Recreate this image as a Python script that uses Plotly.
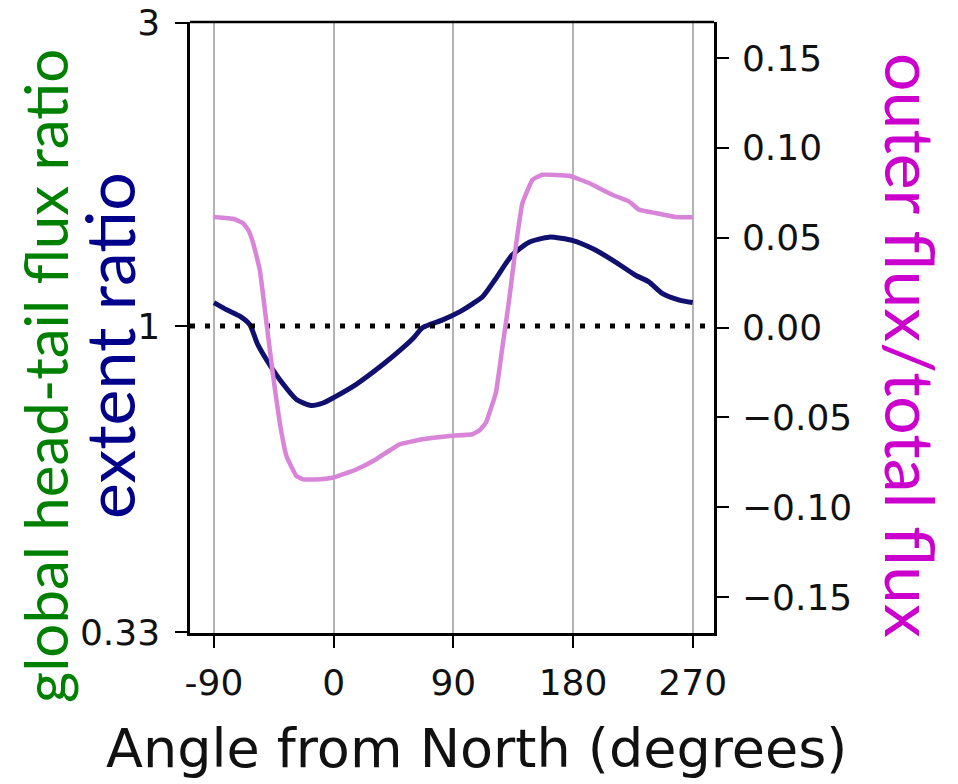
import math
import plotly.graph_objects as go

# Extent ratio (left, log axis) versus angle from North
extent_angle = [-90, -80, -70, -63, -57, -50, -40, -28, -17, -8, 0, 17, 37, 52, 60, 67,
                82, 95, 105, 112, 122, 134, 147, 162, 180, 195, 212, 227, 237, 247, 260, 270]
extent_ratio = [1.089, 1.060, 1.035, 1.005, 0.935, 0.882, 0.821, 0.767, 0.750, 0.757, 0.772,
                0.810, 0.870, 0.924, 0.958, 0.995, 1.023, 1.054, 1.086, 1.112, 1.188, 1.292,
                1.355, 1.380, 1.363, 1.323, 1.261, 1.202, 1.174, 1.126, 1.099, 1.089]

# Outer flux / total flux (right axis)
flux_angle = [-90, -75, -68, -64, -60.5, -55.5, -50.5, -45.5, -40.5, -35.5, -28, -23, -10, 0,
              17, 32, 49.5, 67, 87, 104.5, 110, 114.5, 122, 127, 132, 137, 142, 149.5, 157,
              177, 192, 209.5, 222, 229.5, 242, 257, 270]
flux_frac = [0.0615, 0.0604, 0.058, 0.054, 0.047, 0.032, 0.0026, -0.027, -0.053, -0.0715,
             -0.0826, -0.0845, -0.0845, -0.0835, -0.079, -0.0733, -0.065, -0.0622, -0.0604,
             -0.0594, -0.057, -0.053, -0.0363, -0.0104, 0.0156, 0.0452, 0.0693, 0.0822, 0.085,
             0.0844, 0.0804, 0.0739, 0.0702, 0.0656, 0.0637, 0.0615, 0.0613]

x_ticks = [-90, 0, 90, 180, 270]
left_ticks = [0.33, 1, 3]
left_labels = ["0.33", "1", "3"]
right_ticks = [-0.15, -0.10, -0.05, 0.0, 0.05, 0.10, 0.15]
right_labels = ["\u22120.15", "\u22120.10", "\u22120.05", "0.00", "0.05", "0.10", "0.15"]

TICK_FONT = dict(family="DejaVu Sans", size=36, color="#111111")
X_RANGE = [-108, 286]

fig = go.Figure()

fig.add_trace(go.Scatter(
    x=extent_angle, y=extent_ratio, mode="lines",
    line=dict(color="#10106e", width=5, shape="spline", smoothing=0.6),
    yaxis="y", showlegend=False,
))

# unity reference line
fig.add_trace(go.Scatter(
    x=X_RANGE, y=[1, 1], mode="lines",
    line=dict(color="black", width=5, dash="5px,10px"),
    yaxis="y", showlegend=False,
))

fig.add_trace(go.Scatter(
    x=flux_angle, y=flux_frac, mode="lines",
    line=dict(color="#d884d8", width=4.5, shape="spline", smoothing=0.3),
    yaxis="y2", showlegend=False,
))

axis_line = dict(showline=True, linecolor="black", linewidth=2.5, mirror=False,
                 ticks="outside", ticklen=12, tickwidth=2, tickcolor="black",
                 automargin=False)

fig.update_layout(
    template="none",
    width=958, height=784,
    margin=dict(l=190, r=244, t=22, b=151),
    plot_bgcolor="white", paper_bgcolor="white",
    xaxis=dict(range=X_RANGE, tickvals=x_ticks, ticktext=[str(v) for v in x_ticks],
               showgrid=True, gridcolor="#b4b4b4", gridwidth=1.5, zeroline=False,
               tickfont=TICK_FONT, ticklabelstandoff=4, **axis_line),
    yaxis=dict(type="log",
               range=[math.log10(0.33) - 0.001, math.log10(3) + 0.001],
               tickvals=left_ticks, ticktext=left_labels,
               showgrid=False, zeroline=False, tickfont=TICK_FONT, ticklabelstandoff=8,
               **axis_line),
    yaxis2=dict(overlaying="y", side="right", range=[-0.17, 0.17], tickvals=right_ticks,
                ticktext=right_labels, showgrid=False, zeroline=False, tickfont=TICK_FONT,
                ticklabelstandoff=6, **axis_line),
)

# top frame edge
fig.add_shape(type="line", xref="paper", yref="paper", x0=0, x1=1, y0=1, y1=1,
              line=dict(color="black", width=2.5))

def px_x(px):
    return (px - 190) / 524.0

def px_y(py):
    return (633 - py) / 611.0

fig.add_annotation(text="Angle from North (degrees)", showarrow=False,
                   xref="paper", yref="paper", x=px_x(476), y=px_y(748),
                   xanchor="center", yanchor="middle",
                   font=dict(family="DejaVu Sans", size=54, color="#111111"))
fig.add_annotation(text="global head-tail flux ratio", textangle=-90, showarrow=False,
                   xref="paper", yref="paper", x=px_x(45), y=px_y(376),
                   xanchor="center", yanchor="middle",
                   font=dict(family="Lato", size=60, color="#008000"))
fig.add_annotation(text="extent ratio", textangle=-90, showarrow=False,
                   xref="paper", yref="paper", x=px_x(108), y=px_y(346),
                   xanchor="center", yanchor="middle",
                   font=dict(family="Lato", size=68, color="#00008b"))
fig.add_annotation(text="outer flux/total flux", textangle=90, showarrow=False,
                   xref="paper", yref="paper", x=px_x(912), y=px_y(345),
                   xanchor="center", yanchor="middle",
                   font=dict(family="Lato", size=68, color="#cc00cc"))

fig.write_html("out.html")
